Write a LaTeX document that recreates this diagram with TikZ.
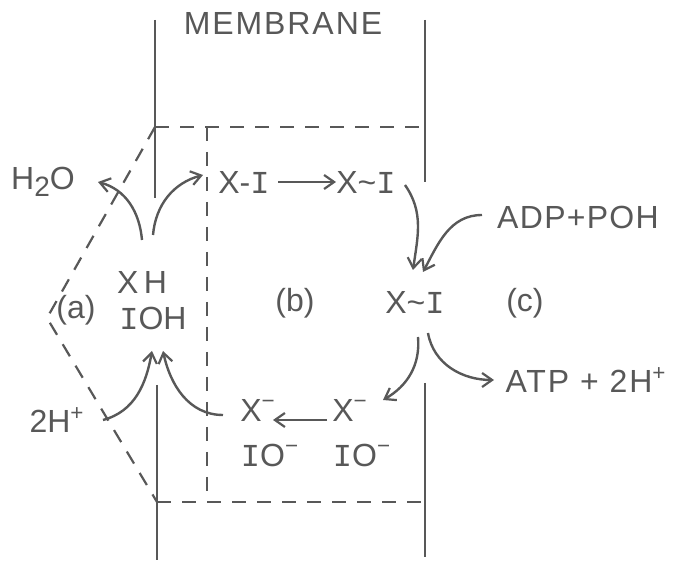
\documentclass[tikz,border=0pt]{standalone}
\usepackage{fontspec}
\setmainfont{Liberation Sans}
\newfontfamily\serifI{Liberation Mono}
\usetikzlibrary{arrows.meta}
\definecolor{ink}{HTML}{585858}
\newcommand{\Ii}{{\serifI I}}
\newcommand{\lowtwo}{\raisebox{-0.4ex}{\fontsize{14}{14}\selectfont 2}}
\begin{document}
\begin{tikzpicture}[x=0.5pt,y=-0.5pt,
  every node/.style={text=ink,inner sep=0pt,font=\fontsize{16}{18}\selectfont},
  memb/.style={draw=ink,line width=1.2pt},
  dsh/.style={draw=ink,line width=1.1pt,dash pattern=on 7pt off 5.5pt},
  arr/.style={draw=ink,line width=1.2pt,-{Straight Barb[length=5pt,width=7pt,line width=1.1pt]}}]
\useasboundingbox (0,0) rectangle (682,561);
% membrane walls
\draw[memb] (155,20) -- (155,198);
\draw[memb] (157,385) -- (157,560);
\draw[memb] (425,20) -- (425,182);
\draw[memb] (425,383) -- (425,557);
% dashed compartments
\draw[dsh] (155,127) -- (425,127);
\draw[dsh] (207,127) -- (207,497);
\draw[dsh] (157,502) -- (425,502);
\draw[dsh] (155,127) -- (47,318) -- (157,502);
% texts
\node (memtxt) at (283,23) {\addfontfeatures{LetterSpace=6}MEMBRANE};
\node (h2o) at (43,182) {H\lowtwo O};
\node (xi1) at (244,182) {X-\Ii};
\node (xi2) at (366,182) {X\textasciitilde\Ii};
\node (adp) at (578,217) {\addfontfeatures{LetterSpace=4}ADP+POH};
\node (xh) at (142,282) {X\,H};
\node (ioh) at (153,318) {\Ii OH};
\node (la) at (76,310) {(a)};
\node (lb) at (295,303) {(b)};
\node (lc) at (525,303) {(c)};
\node (xi3) at (415,302) {X\textasciitilde\Ii};
\node (atp) at (586,380) {\addfontfeatures{LetterSpace=6}ATP + 2H\textsuperscript{+}};
\node (hplus) at (57,420) {2H\textsuperscript{+}};
\node (xml) at (258,410) {X\textsuperscript{−}};
\node (ioml) at (270,455) {\Ii O\textsuperscript{−}};
\node (xmr) at (350,410) {X\textsuperscript{−}};
\node (iomr) at (362,455) {\Ii O\textsuperscript{−}};
% arrow end points
\coordinate (a1s) at (142,240); \coordinate (a1e) at (98,182);
\coordinate (a2s) at (153,235); \coordinate (a2e) at (203,175);
\coordinate (a3s) at (278,182); \coordinate (a3e) at (336,182);
\coordinate (a4s) at (405,185); \coordinate (a4e) at (413,270);
\coordinate (a5s) at (482,215); \coordinate (a5e) at (423,272);
\coordinate (a6s) at (418,337); \coordinate (a6e) at (383,400);
\coordinate (a7s) at (428,333); \coordinate (a7e) at (494,380);
\coordinate (a8s) at (327,420); \coordinate (a8e) at (273,420);
\coordinate (a9s) at (223,415); \coordinate (a9e) at (163,351);
\coordinate (a10s) at (103,420); \coordinate (a10e) at (152,351);
% arrows
\draw[arr] (a1s) to[out=95,in=-15] (a1e);
\draw[arr] (a2s) to[out=85,in=195] (a2e);
\draw[arr] (a3s) -- (a3e);
\draw[arr] (a4s) to[out=-55,in=82] (a4e);
\draw[arr] (a5s) to[out=180,in=62] (a5e);
\draw[arr] (a6s) to[out=-85,in=30] (a6e);
\draw[arr] (a7s) to[out=-80,in=180] (a7e);
\draw[arr] (a8s) -- (a8e);
\draw[arr] (a9s) to[out=180,in=-78] (a9e);
\draw[arr] (a10s) to[out=15,in=-100] (a10e);
\end{tikzpicture}
\end{document}
